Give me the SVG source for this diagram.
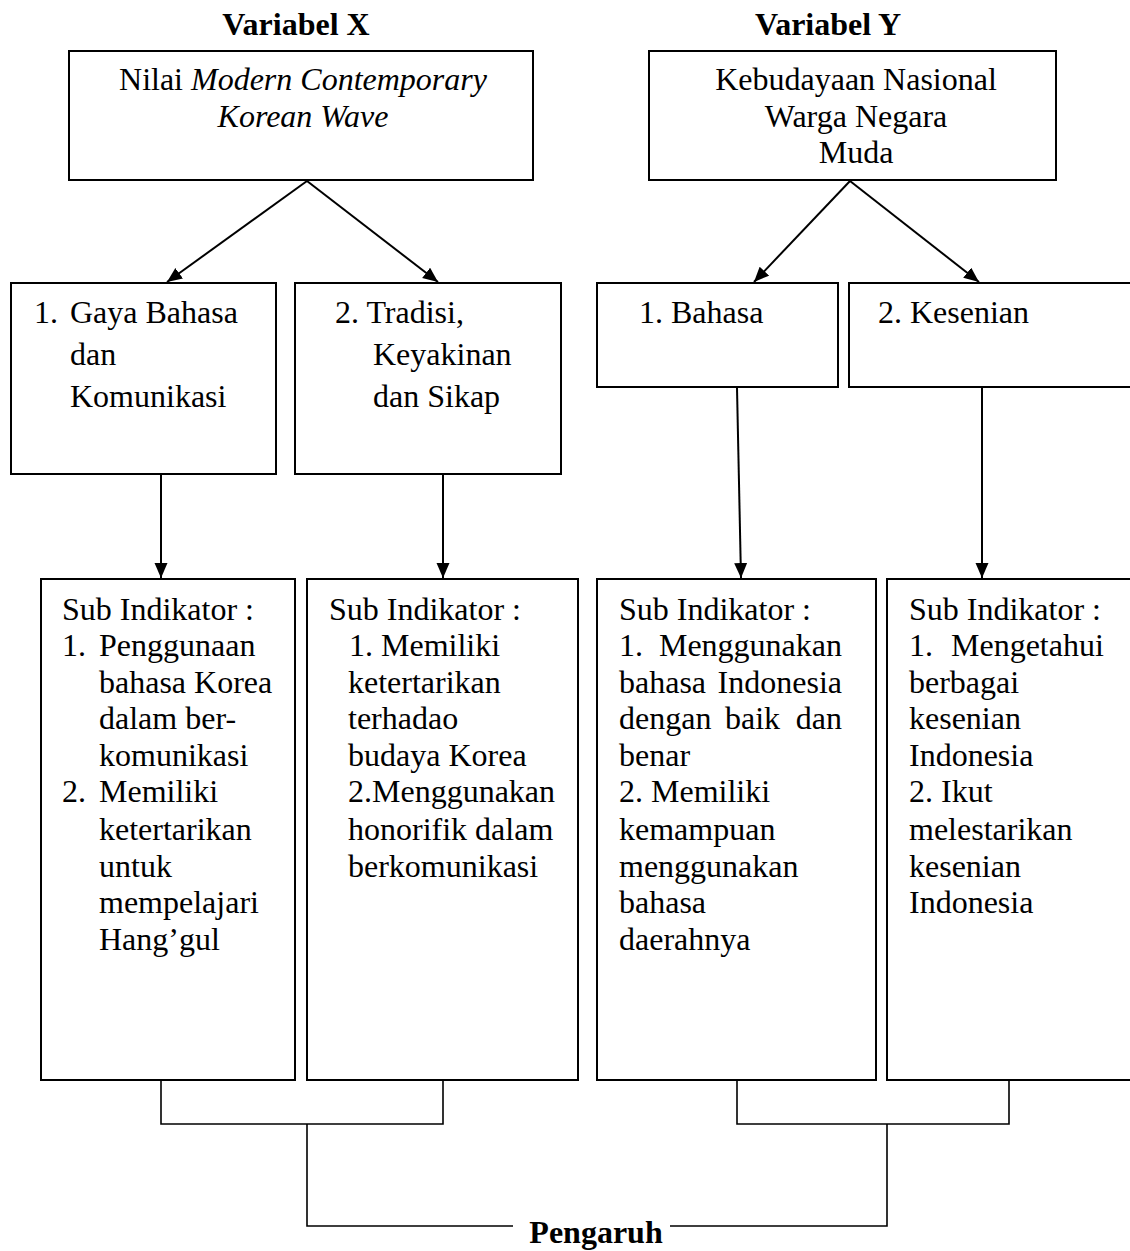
<svg xmlns="http://www.w3.org/2000/svg" width="1130" height="1251" viewBox="0 0 1130 1251">
<defs>
<style>
text{font-family:"Liberation Serif","Times New Roman",serif;font-size:32px;fill:#000}
.t{font-weight:bold}
.c{text-anchor:middle}
.e{text-anchor:end}
.box{fill:#fff;stroke:#000;stroke-width:2}
.ln{fill:none;stroke:#000;stroke-width:2}
.br{fill:none;stroke:#000;stroke-width:1.6}
</style>
<marker id="ah" markerUnits="userSpaceOnUse" markerWidth="16" markerHeight="14" refX="15" refY="6.5" orient="auto">
<path d="M0,0 L15,6.5 L0,13 z" fill="#000"/>
</marker>
</defs>
<rect width="1130" height="1251" fill="#fff"/>

<g id="title-x"><text class="t c" x="296" y="35">Variabel X</text></g>
<g id="title-y"><text class="t c" x="828" y="35">Variabel Y</text></g>

<g id="node-x">
<rect class="box" x="69" y="51" width="464" height="129"/>
<text class="c" x="303" y="90">Nilai <tspan font-style="italic">Modern Contemporary</tspan></text>
<text class="c" x="303" y="127" font-style="italic">Korean Wave</text>
</g>

<g id="node-y">
<rect class="box" x="649" y="51" width="407" height="129"/>
<text class="c" x="856" y="90">Kebudayaan Nasional</text>
<text class="c" x="856" y="127">Warga Negara</text>
<text class="c" x="856" y="163">Muda</text>
</g>

<g id="node-x1">
<rect class="box" x="11" y="283" width="265" height="191"/>
<text x="34" y="323">1.<tspan x="70">Gaya Bahasa</tspan></text>
<text x="70" y="365">dan</text>
<text x="70" y="407">Komunikasi</text>
</g>

<g id="node-x2">
<rect class="box" x="295" y="283" width="266" height="191"/>
<text x="335" y="323">2. Tradisi,</text>
<text x="373" y="365">Keyakinan</text>
<text x="373" y="407">dan Sikap</text>
</g>

<g id="node-y1">
<rect class="box" x="597" y="283" width="241" height="104"/>
<text x="639" y="323">1. Bahasa</text>
</g>

<g id="node-y2">
<rect class="box" x="849" y="283" width="290" height="104"/>
<text x="878" y="323">2. Kesenian</text>
</g>

<g id="node-x1-sub">
<rect class="box" x="41" y="579" width="254" height="501"/>
<text x="62" y="620">Sub Indikator :</text>
<text x="62" y="656">1.<tspan x="99">Penggunaan</tspan></text>
<text x="99" y="693">bahasa Korea</text>
<text x="99" y="729">dalam ber-</text>
<text x="99" y="766">komunikasi</text>
<text x="62" y="802">2.<tspan x="99">Memiliki</tspan></text>
<text x="99" y="840">ketertarikan</text>
<text x="99" y="877">untuk</text>
<text x="99" y="913">mempelajari</text>
<text x="99" y="950">Hang’gul</text>
</g>

<g id="node-x2-sub">
<rect class="box" x="307" y="579" width="271" height="501"/>
<text x="329" y="620">Sub Indikator :</text>
<text x="349" y="656">1. Memiliki</text>
<text x="348" y="693">ketertarikan</text>
<text x="348" y="729">terhadao</text>
<text x="348" y="766">budaya Korea</text>
<text x="348" y="802">2.Menggunakan</text>
<text x="348" y="840">honorifik dalam</text>
<text x="348" y="877">berkomunikasi</text>
</g>

<g id="node-y1-sub">
<rect class="box" x="597" y="579" width="279" height="501"/>
<text x="619" y="620">Sub Indikator :</text>
<text x="619" y="656">1.</text><text class="e" x="842" y="656">Menggunakan</text>
<text x="619" y="693">bahasa</text><text class="e" x="842" y="693">Indonesia</text>
<text x="619" y="729">dengan</text><text x="725" y="729">baik</text><text class="e" x="842" y="729">dan</text>
<text x="619" y="766">benar</text>
<text x="619" y="802">2. Memiliki</text>
<text x="619" y="840">kemampuan</text>
<text x="619" y="877">menggunakan</text>
<text x="619" y="913">bahasa</text>
<text x="619" y="950">daerahnya</text>
</g>

<g id="node-y2-sub">
<rect class="box" x="887" y="579" width="252" height="501"/>
<text x="909" y="620">Sub Indikator :</text>
<text x="909" y="656">1.<tspan x="951">Mengetahui</tspan></text>
<text x="909" y="693">berbagai</text>
<text x="909" y="729">kesenian</text>
<text x="909" y="766">Indonesia</text>
<text x="909" y="802">2. Ikut</text>
<text x="909" y="840">melestarikan</text>
<text x="909" y="877">kesenian</text>
<text x="909" y="913">Indonesia</text>
</g>

<g id="node-pengaruh">
<text class="t c" x="596" y="1243">Pengaruh</text>
</g>

<g id="connectors">
<line class="ln" x1="307" y1="181" x2="167" y2="282" marker-end="url(#ah)"/>
<line class="ln" x1="307" y1="181" x2="438" y2="282" marker-end="url(#ah)"/>
<line class="ln" x1="850" y1="181" x2="754" y2="282" marker-end="url(#ah)"/>
<line class="ln" x1="850" y1="181" x2="979" y2="282" marker-end="url(#ah)"/>
<line class="ln" x1="161" y1="475" x2="161" y2="578" marker-end="url(#ah)"/>
<line class="ln" x1="443" y1="475" x2="443" y2="578" marker-end="url(#ah)"/>
<line class="ln" x1="737" y1="388" x2="741" y2="578" marker-end="url(#ah)"/>
<line class="ln" x1="982" y1="388" x2="982" y2="578" marker-end="url(#ah)"/>
<polyline class="br" points="161,1081 161,1124 443,1124 443,1081"/>
<polyline class="br" points="737,1081 737,1124 1009,1124 1009,1081"/>
<polyline class="br" points="513,1226 307,1226 307,1124"/>
<polyline class="br" points="670,1226 887,1226 887,1124"/>
</g>
</svg>
